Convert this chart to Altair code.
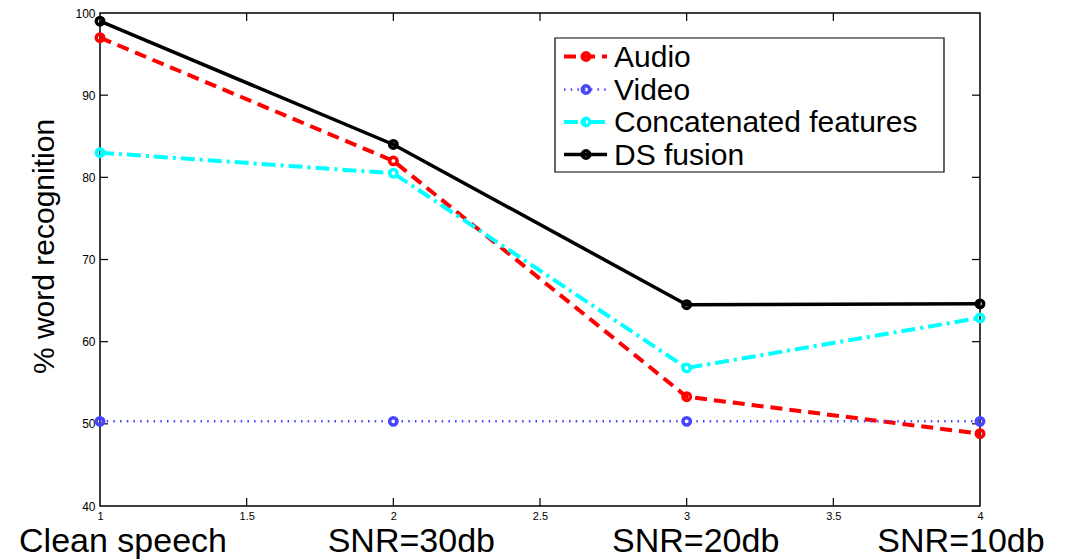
import altair as alt
import pandas as pd

# Recognition rates per noise condition
conditions = [1, 2, 3, 4]
condition_labels = ["Clean speech", "SNR=30db", "SNR=20db", "SNR=10db"]
audio = [97.0, 82.0, 53.3, 48.8]
video = [50.3, 50.3, 50.3, 50.3]
concatenated = [83.0, 80.5, 56.8, 62.9]
ds_fusion = [99.0, 84.0, 64.5, 64.6]

series_names = ["Audio", "Video", "Concatenated features", "DS fusion"]
series_values = [audio, video, concatenated, ds_fusion]

x_tick_values = [1, 1.5, 2, 2.5, 3, 3.5, 4]
y_tick_values = [40, 50, 60, 70, 80, 90, 100]
x_inner_ticks = [1.5, 2, 2.5, 3, 3.5]
y_inner_ticks = [50, 60, 70, 80, 90]

W, H = 880, 493
FONT = "Liberation Sans"

styles = {
    "Audio": dict(color="#ff0000", strokeDash=[12, 7], strokeWidth=4),
    "Video": dict(color="#4646ff", strokeDash=[1.5, 5.2], strokeWidth=2.5),
    "Concatenated features": dict(color="#00ffff", strokeDash=[14, 5, 3, 5], strokeWidth=4),
    "DS fusion": dict(color="#000000", strokeWidth=3.5),
}

x_scale = alt.Scale(domain=[1, 4], nice=False, zero=False)
y_scale = alt.Scale(domain=[40, 100], nice=False, zero=False)

x_enc = alt.X(
    "condition:Q", scale=x_scale,
    axis=alt.Axis(values=x_tick_values, format="~g", ticks=False, domain=False, grid=False,
                  labelFontSize=11, labelPadding=4, labelFlush=False, labelColor="black",
                  title=None),
)
y_enc = alt.Y(
    "value:Q", scale=y_scale,
    axis=alt.Axis(values=y_tick_values, ticks=False, domain=False, grid=False,
                  labelFontSize=12, labelPadding=5, labelColor="black",
                  title="% word recognition", titleFontSize=30, titleFontWeight="normal",
                  titleColor="black", titleAngle=270, titleX=-56, titleY=233,
                  titleAlign="center", titleBaseline="middle"),
)

layers = []

# Inward tick marks on all four sides of the frame
xt = pd.DataFrame({"condition": x_inner_ticks})
yt = pd.DataFrame({"value": y_inner_ticks})
tick_style = dict(color="black", strokeWidth=1.2)
layers.append(alt.Chart(xt).mark_rule(**tick_style).encode(x=x_enc, y=alt.value(H), y2=alt.value(H - 8)))
layers.append(alt.Chart(xt).mark_rule(**tick_style).encode(x=x_enc, y=alt.value(0), y2=alt.value(8)))
layers.append(alt.Chart(yt).mark_rule(**tick_style).encode(y=y_enc, x=alt.value(0), x2=alt.value(8)))
layers.append(alt.Chart(yt).mark_rule(**tick_style).encode(y=y_enc, x=alt.value(W), x2=alt.value(W - 8)))

MARKER = dict(shape="circle", size=55, strokeWidth=3.5, filled=False, opacity=1)

# Series lines and markers
for name, vals in zip(series_names, series_values):
    df = pd.DataFrame({"condition": conditions, "value": vals})
    st = styles[name]
    layers.append(alt.Chart(df).mark_line(**st).encode(x=x_enc, y=y_enc))
    layers.append(
        alt.Chart(df).mark_point(color=st["color"], **MARKER).encode(x=x_enc, y=y_enc)
    )

# Large condition names under the axis
label_nudge = [23, 18, 9, -19]
for c, lab, dx in zip(conditions, condition_labels, label_nudge):
    d = pd.DataFrame({"condition": [c], "label": [lab]})
    layers.append(
        alt.Chart(d).mark_text(fontSize=34, font=FONT, color="black", align="center",
                               baseline="alphabetic", dx=dx)
        .encode(x=x_enc, y=alt.value(H + 46), text="label:N")
    )

# Legend box
one = pd.DataFrame({"k": [0]})
LX0, LX1, LY0, LY1 = 455, 844, 25, 159
layers.append(
    alt.Chart(one).mark_rect(fill="white", stroke="black", strokeWidth=1.2)
    .encode(x=alt.value(LX0), x2=alt.value(LX1), y=alt.value(LY0), y2=alt.value(LY1))
)
row_y = [43.5, 76.5, 109, 141.5]
for name, ry in zip(series_names, row_y):
    st = styles[name]
    d = pd.DataFrame({"label": [name]})
    layers.append(
        alt.Chart(d).mark_rule(**st)
        .encode(x=alt.value(464), x2=alt.value(507), y=alt.value(ry))
    )
    layers.append(
        alt.Chart(d).mark_point(color=st["color"], **MARKER)
        .encode(x=alt.value(486), y=alt.value(ry))
    )
    layers.append(
        alt.Chart(d).mark_text(fontSize=30, font=FONT, color="black", align="left",
                               baseline="middle")
        .encode(x=alt.value(514), y=alt.value(ry + 1), text="label:N")
    )

chart = (
    alt.layer(*layers)
    .properties(
        width=W, height=H,
        padding={"left": 100, "top": 13, "right": 100, "bottom": 54},
        autosize=alt.AutoSizeParams(type="none"),
        background="white",
    )
    .configure(font=FONT)
    .configure_view(stroke="black", strokeWidth=1.5)
    .configure_axis(labelFont=FONT, titleFont=FONT)
)

chart.save("out.html", embed_options={"renderer": "svg", "actions": False})
